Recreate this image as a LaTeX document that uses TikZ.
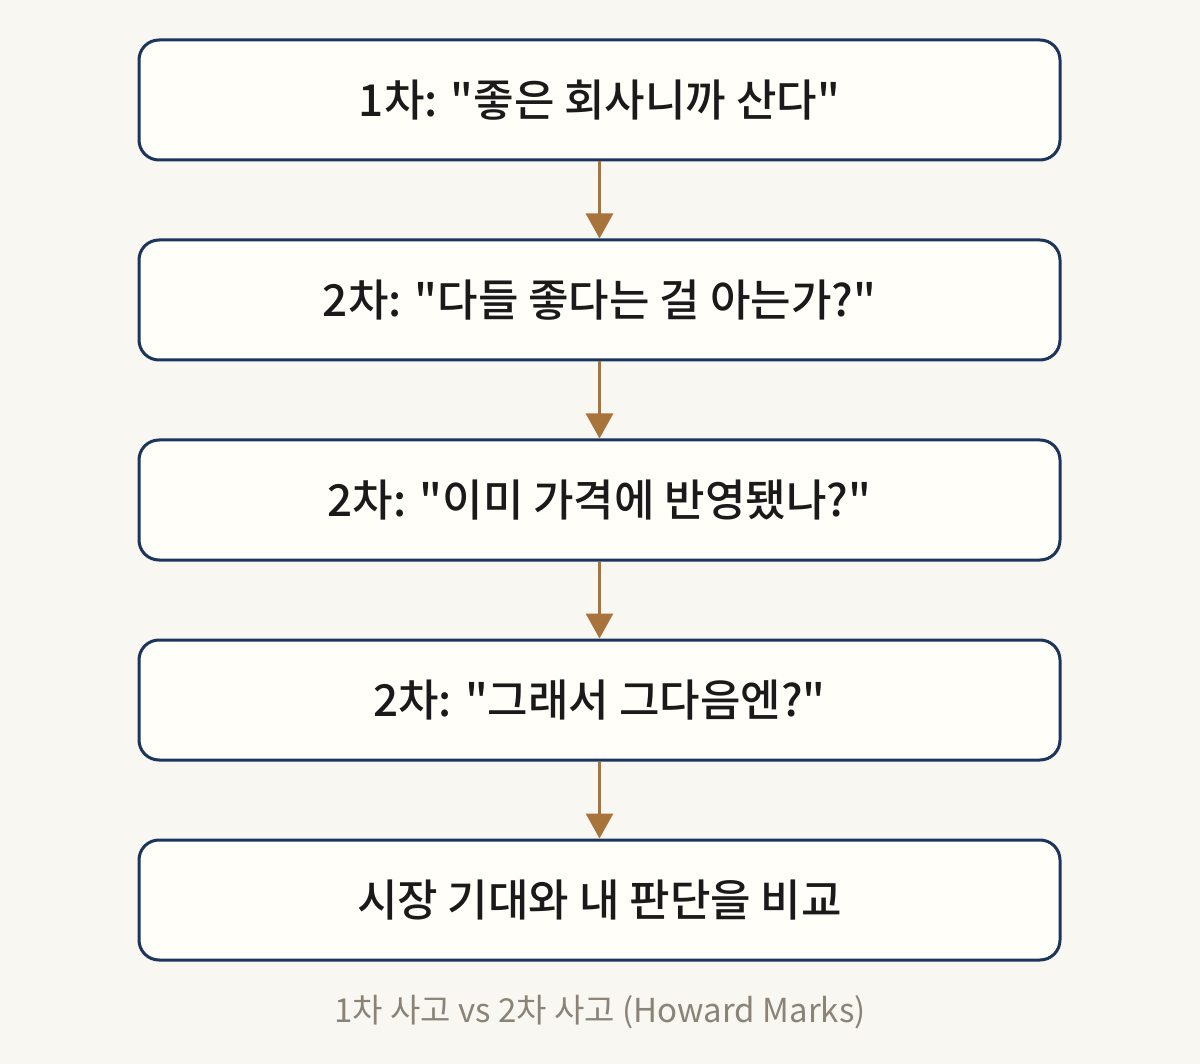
\documentclass[tikz,border=0pt]{standalone}
\usepackage{fontspec}
\setmainfont{Noto Sans CJK KR}[BoldFont={Noto Sans CJK KR Medium}]
\usetikzlibrary{arrows.meta}
\newcommand\sq{{\XeTeXglyph\XeTeXcharglyph"22\relax}}
\definecolor{bg}{HTML}{F9F7F1}
\definecolor{boxfill}{HTML}{FFFEF9}
\definecolor{navy}{HTML}{1B355C}
\definecolor{arrowc}{HTML}{A8743C}
\definecolor{captc}{HTML}{8A8478}
\definecolor{txt}{HTML}{1A1A1A}
\tikzset{
  stepbox/.style={draw=navy, line width=3pt, fill=boxfill, rounded corners=20pt,
    minimum width=921pt, minimum height=120pt, inner sep=0pt,
    font=\fontsize{44pt}{50pt}\selectfont\bfseries, text=txt},
  flowarrow/.style={draw=arrowc, line width=3pt, -{Triangle[width=27pt,length=25pt]}},
  caption/.style={font=\fontsize{33pt}{38pt}\selectfont, text=captc}
}
\begin{document}
\begin{tikzpicture}[x=1pt,y=-1pt]
\fill[bg] (0,0) rectangle (1200,1064);
\useasboundingbox (0,0) rectangle (1200,1064);
\node[stepbox] (b1) at (599.5,100) {1차: \sq 좋은 회사니까 산다\sq};
\node[stepbox] (b2) at (599.5,300) {2차: \sq 다들 좋다는 걸 아는가?\sq};
\node[stepbox] (b3) at (599.5,500) {2차: \sq 이미 가격에 반영됐나?\sq};
\node[stepbox] (b4) at (599.5,700) {2차: \sq 그래서 그다음엔?\sq};
\node[stepbox] (b5) at (599.5,900) {시장 기대와 내 판단을 비교};
\draw[flowarrow] (b1.south) -- (b2.north);
\draw[flowarrow] (b2.south) -- (b3.north);
\draw[flowarrow] (b3.south) -- (b4.north);
\draw[flowarrow] (b4.south) -- (b5.north);
\node[caption] (cap) at (600,1012) {1차 사고 vs 2차 사고 (Howard Marks)};
\end{tikzpicture}
\end{document}
